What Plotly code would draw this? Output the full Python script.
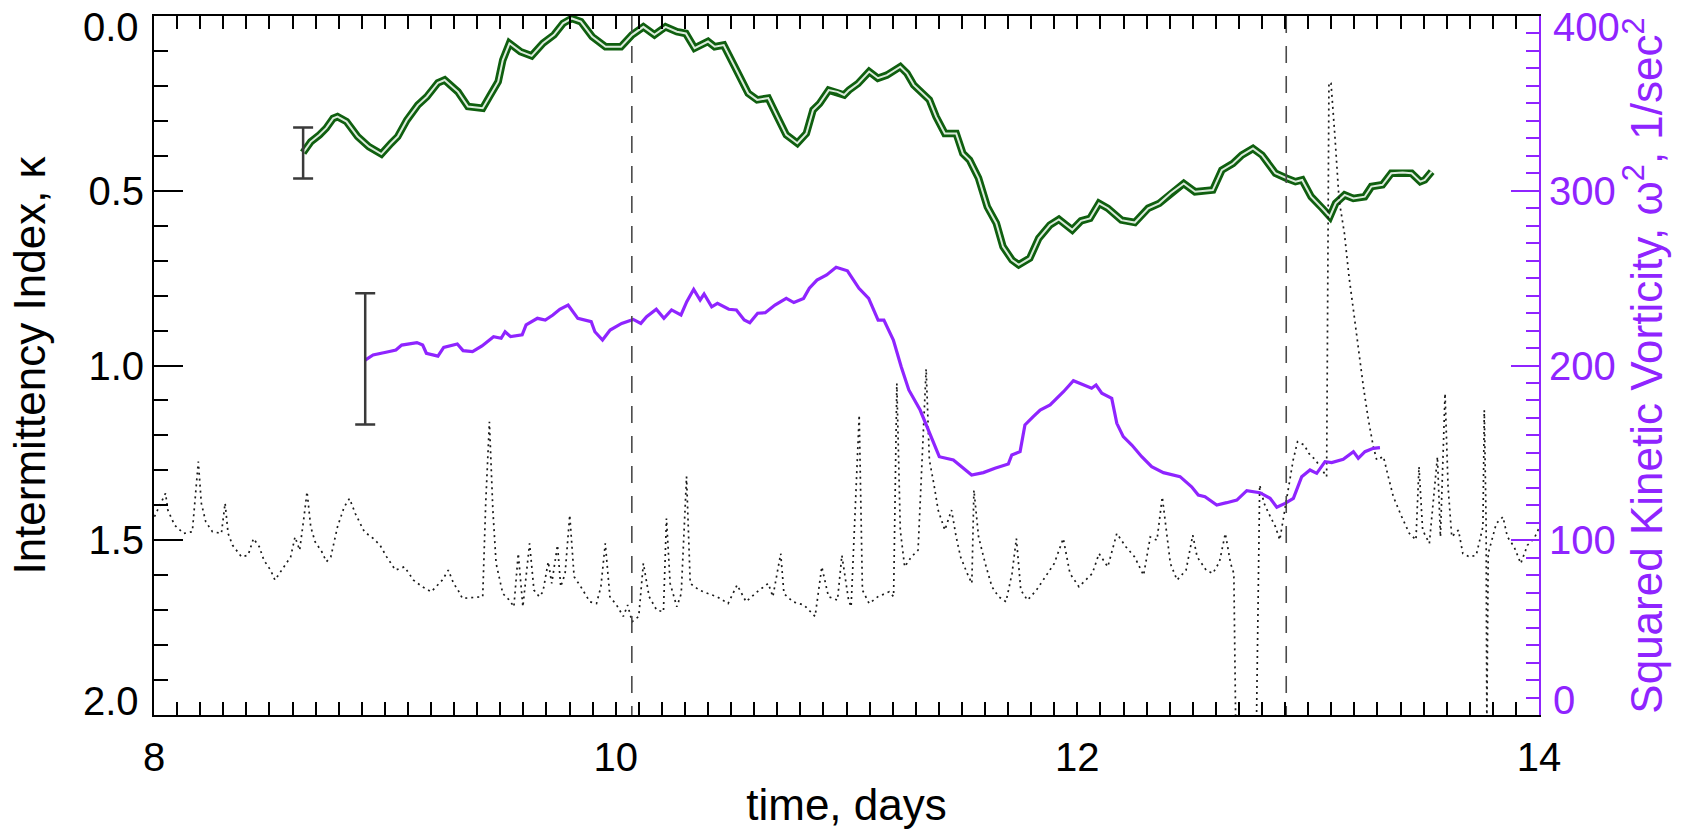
import plotly.graph_objects as go

FONT = "Liberation Sans, Arial, Helvetica, sans-serif"
PURPLE = "#8f24ff"
GREEN_DARK = "#0f5f0f"
GREEN_LIGHT = "#dcecdc"
GRAY = "#3a3a3a"

# ---- Intermittency index kappa (left axis, reversed) ----
kappa_days = [8.646, 8.679, 8.717, 8.746, 8.776, 8.795, 8.834, 8.882, 8.931, 8.985,
              9.027, 9.056, 9.095, 9.143, 9.182, 9.230, 9.259, 9.317, 9.360, 9.424,
              9.453, 9.491, 9.511, 9.540, 9.588, 9.636, 9.685, 9.733, 9.772, 9.810,
              9.849, 9.898, 9.956, 10.023, 10.071, 10.120, 10.168, 10.216, 10.265, 10.304,
              10.342, 10.400, 10.429, 10.468, 10.516, 10.574, 10.613, 10.661, 10.700, 10.739,
              10.787, 10.826, 10.855, 10.884, 10.923, 10.961, 10.990, 11.011, 11.050, 11.098,
              11.136, 11.175, 11.233, 11.262, 11.291, 11.359, 11.388, 11.426, 11.475, 11.504,
              11.533, 11.572, 11.610, 11.649, 11.678, 11.717, 11.746, 11.794, 11.833, 11.881,
              11.920, 11.978, 12.016, 12.055, 12.094, 12.132, 12.191, 12.249, 12.307, 12.355,
              12.404, 12.461, 12.510, 12.587, 12.626, 12.674, 12.713, 12.761, 12.800, 12.858,
              12.906, 12.945, 12.974, 13.013, 13.061, 13.094, 13.119, 13.158, 13.196, 13.245,
              13.274, 13.322, 13.360, 13.409, 13.448, 13.486, 13.505, 13.535]
kappa = [0.391, 0.360, 0.340, 0.321, 0.293, 0.288, 0.302, 0.345, 0.374, 0.395,
         0.364, 0.345, 0.298, 0.255, 0.231, 0.191, 0.183, 0.217, 0.259, 0.264,
         0.231, 0.188, 0.126, 0.078, 0.102, 0.114, 0.078, 0.054, 0.021, 0.007,
         0.016, 0.059, 0.088, 0.088, 0.054, 0.031, 0.054, 0.031, 0.045, 0.050,
         0.092, 0.073, 0.088, 0.083, 0.145, 0.221, 0.240, 0.235, 0.288, 0.340,
         0.364, 0.336, 0.269, 0.250, 0.212, 0.217, 0.226, 0.212, 0.193, 0.159,
         0.178, 0.169, 0.145, 0.164, 0.197, 0.240, 0.288, 0.336, 0.336, 0.393,
         0.412, 0.464, 0.546, 0.593, 0.660, 0.698, 0.712, 0.693, 0.636, 0.598,
         0.582, 0.612, 0.586, 0.579, 0.536, 0.550, 0.584, 0.591, 0.550, 0.536,
         0.507, 0.479, 0.503, 0.498, 0.441, 0.422, 0.398, 0.379, 0.398, 0.450,
         0.464, 0.474, 0.469, 0.517, 0.550, 0.574, 0.536, 0.512, 0.522, 0.517,
         0.488, 0.483, 0.450, 0.448, 0.450, 0.474, 0.469, 0.445]

# ---- Squared kinetic vorticity (right axis) ----
vort_days = [8.915, 8.949, 9.015, 9.048, 9.073, 9.139, 9.164, 9.180, 9.230, 9.255,
             9.314, 9.339, 9.380, 9.421, 9.471, 9.504, 9.521, 9.545, 9.595, 9.612,
             9.661, 9.695, 9.728, 9.758, 9.794, 9.836, 9.894, 9.910, 9.943, 9.976,
             10.026, 10.076, 10.109, 10.134, 10.176, 10.209, 10.242, 10.283, 10.308, 10.338,
             10.366, 10.383, 10.416, 10.441, 10.490, 10.523, 10.557, 10.581, 10.615, 10.648,
             10.690, 10.739, 10.772, 10.814, 10.839, 10.872, 10.914, 10.955, 11.004, 11.054,
             11.096, 11.137, 11.162, 11.203, 11.237, 11.270, 11.319, 11.353, 11.402, 11.463,
             11.506, 11.542, 11.593, 11.643, 11.701, 11.716, 11.752, 11.773, 11.809, 11.839,
             11.882, 11.940, 11.983, 12.026, 12.062, 12.081, 12.106, 12.149, 12.171, 12.199,
             12.236, 12.279, 12.322, 12.373, 12.445, 12.495, 12.524, 12.553, 12.604, 12.647,
             12.691, 12.734, 12.791, 12.835, 12.864, 12.900, 12.936, 12.972, 13.008, 13.037,
             13.073, 13.102, 13.152, 13.196, 13.217, 13.246, 13.282, 13.311]
vort = [203.1, 206.0, 207.9, 208.9, 211.7, 213.1, 211.7, 207.0, 205.4, 210.4,
        212.3, 208.5, 207.9, 211.2, 216.5, 215.6, 219.3, 216.5, 217.5, 223.2,
        227.0, 226.0, 228.9, 232.2, 234.6, 227.0, 225.1, 219.3, 214.6, 220.3,
        224.1, 226.4, 224.1, 227.9, 232.2, 227.0, 231.8, 228.9, 236.5, 243.6,
        237.5, 240.9, 233.6, 235.6, 232.2, 231.8, 226.0, 224.5, 229.9, 230.2,
        234.6, 238.4, 236.0, 238.4, 244.2, 248.9, 251.8, 256.2, 254.2, 244.2,
        238.4, 226.0, 226.0, 214.6, 199.3, 186.0, 174.5, 163.1, 147.8, 145.9,
        141.2, 137.3, 138.7, 141.2, 143.6, 148.8, 150.7, 166.0, 170.7, 174.5,
        177.4, 185.0, 191.3, 188.8, 187.0, 188.8, 184.1, 181.2, 166.9, 159.3,
        154.5, 147.8, 142.1, 138.7, 136.4, 130.6, 125.9, 124.9, 120.2, 121.5,
        123.0, 128.4, 127.2, 124.0, 118.9, 121.1, 124.0, 136.4, 140.2, 138.3,
        145.0, 144.4, 146.3, 150.7, 146.9, 150.7, 152.6, 153.0]

# ---- Dotted series (right axis) ----
dot_days = [8.002, 8.050, 8.060, 8.089, 8.128, 8.166, 8.192, 8.205, 8.224, 8.253,
            8.292, 8.308, 8.321, 8.340, 8.379, 8.408, 8.431, 8.456, 8.476, 8.505,
            8.524, 8.553, 8.592, 8.611, 8.631, 8.650, 8.663, 8.679, 8.698, 8.727,
            8.747, 8.766, 8.795, 8.824, 8.847, 8.872, 8.911, 8.950, 8.979, 9.008,
            9.046, 9.085, 9.124, 9.162, 9.201, 9.249, 9.275, 9.298, 9.317, 9.336,
            9.375, 9.424, 9.437, 9.453, 9.468, 9.482, 9.511, 9.540, 9.559, 9.578,
            9.598, 9.627, 9.646, 9.669, 9.685, 9.708, 9.723, 9.748, 9.762, 9.781,
            9.801, 9.820, 9.849, 9.888, 9.917, 9.936, 9.955, 9.975, 10.004, 10.033,
            10.052, 10.071, 10.100, 10.120, 10.145, 10.178, 10.207, 10.220, 10.236, 10.265,
            10.284, 10.307, 10.323, 10.362, 10.400, 10.439, 10.487, 10.526, 10.565, 10.613,
            10.661, 10.681, 10.715, 10.729, 10.768, 10.816, 10.864, 10.893, 10.922, 10.961,
            10.980, 11.009, 11.020, 11.055, 11.069, 11.098, 11.136, 11.185, 11.204, 11.218,
            11.233, 11.252, 11.281, 11.310, 11.345, 11.359, 11.378, 11.397, 11.426, 11.455,
            11.475, 11.494, 11.523, 11.543, 11.552, 11.572, 11.601, 11.630, 11.659, 11.691,
            11.717, 11.736, 11.755, 11.784, 11.823, 11.862, 11.900, 11.939, 11.968, 12.007,
            12.036, 12.065, 12.094, 12.132, 12.171, 12.210, 12.248, 12.287, 12.316, 12.345,
            12.368, 12.403, 12.432, 12.471, 12.500, 12.519, 12.558, 12.587, 12.616, 12.641,
            12.664, 12.678, 12.686, 12.776, 12.790, 12.809, 12.829, 12.858, 12.877, 12.896,
            12.916, 12.935, 12.954, 12.983, 13.003, 13.032, 13.061, 13.080, 13.090, 13.099,
            13.115, 13.123, 13.134, 13.157, 13.177, 13.196, 13.217, 13.239, 13.261, 13.282,
            13.297, 13.326, 13.347, 13.369, 13.405, 13.438, 13.467, 13.480, 13.496, 13.525,
            13.560, 13.573, 13.593, 13.606, 13.622, 13.651, 13.670, 13.699, 13.728, 13.757,
            13.763, 13.771, 13.774, 13.780, 13.815, 13.844, 13.863, 13.892, 13.921, 13.950,
            13.979, 13.999]
dot_vort = [113.5, 126.9, 117.3, 108.7, 103.9, 104.9, 145.0, 121.2, 110.6, 104.9,
            103.9, 121.2, 103.9, 97.2, 90.5, 91.5, 101.0, 96.3, 88.6, 82.9,
            77.2, 82.9, 90.5, 101.9, 94.3, 113.5, 127.8, 107.7, 99.1, 93.4,
            87.7, 90.5, 107.7, 119.1, 123.9, 115.3, 104.9, 101.0, 97.2, 90.5,
            82.9, 84.8, 77.2, 73.4, 70.5, 77.2, 82.9, 75.3, 71.5, 66.7,
            67.3, 67.7, 121.2, 167.8, 117.3, 86.8, 69.5, 65.7, 61.9, 92.4,
            61.9, 98.2, 71.5, 67.7, 70.5, 87.7, 75.3, 97.2, 73.4, 81.0,
            114.4, 79.1, 73.4, 64.8, 63.8, 73.4, 98.2, 67.7, 62.9, 56.4,
            62.9, 53.4, 56.4, 86.8, 67.7, 60.0, 59.1, 112.5, 75.3, 61.9,
            69.5, 136.4, 75.3, 71.5, 69.5, 67.7, 63.8, 74.4, 64.8, 70.5,
            75.3, 67.7, 92.4, 69.5, 64.8, 62.9, 56.4, 84.8, 67.7, 65.7,
            91.4, 65.7, 61.9, 171.7, 71.5, 63.8, 67.7, 70.5, 67.7, 189.8,
            105.8, 84.8, 90.5, 94.3, 198.0, 145.9, 132.6, 117.3, 105.8, 117.3,
            102.0, 90.5, 81.0, 75.3, 128.7, 102.0, 86.7, 73.4, 67.7, 64.8,
            81.0, 101.0, 71.5, 65.7, 71.5, 79.1, 86.7, 101.0, 81.0, 73.4,
            77.2, 81.0, 92.4, 84.8, 103.9, 96.3, 90.5, 80.0, 101.9, 100.0,
            124.8, 86.7, 77.2, 82.9, 102.9, 90.5, 82.9, 81.0, 87.7, 103.9,
            86.7, 81.0, -5.0, -5.0, 131.6, 121.2, 115.4, 107.8, 100.2, 115.4,
            132.6, 145.9, 156.4, 154.5, 149.7, 145.9, 140.2, 136.4, 362.0, 361.5,
            332.8, 313.8, 294.7, 275.6, 250.8, 231.8, 209.0, 188.0, 168.9, 153.7,
            146.0, 147.9, 136.4, 124.9, 113.5, 104.0, 100.2, 142.1, 105.8, 98.2,
            147.8, 102.0, 184.1, 130.7, 102.0, 105.8, 92.4, 90.5, 91.4, 107.7,
            174.5, 107.7, -5.0, 92.4, 109.6, 113.4, 102.0, 96.3, 86.7, 97.2,
            101.0, 106.7]

# ---- Error bars and event markers ----
kappa_err_day = [8.646]
kappa_err_mid = [0.392]
kappa_err_half = [0.073]
vort_err_day = [8.915]
vort_err_mid = [203.8]
vort_err_half = [37.5]
event_days = [10.07, 12.905]

# ---- Axis ticks / labels ----
x_label_vals = [8, 10, 12, 14]
x_label_text = ["8", "10", "12", "14"]
x_unlabeled_vals = [9, 11, 13]
k_inner_vals = [0.5, 1.0, 1.5]
k_inner_text = ["0.5", "1.0", "1.5"]
k_edge_vals = [0.0, 2.0]
k_edge_text = ["0.0", "2.0"]
v_inner_vals = [100, 200, 300]
v_inner_text = ["100", "200", "300"]
v_edge_vals = [400, 0]
v_edge_text = ["400", "0"]

fig = go.Figure()

for d in event_days:
    fig.add_trace(go.Scatter(x=[d, d], y=[0.0, 2.0], mode="lines",
                             line=dict(color="#4a4a4a", width=1.6, dash="17px,13px"),
                             hoverinfo="skip", xaxis="x2", yaxis="y"))

fig.add_trace(go.Scatter(x=kappa_days, y=kappa, mode="lines",
                         line=dict(color=GREEN_DARK, width=7.5), yaxis="y"))
fig.add_trace(go.Scatter(x=kappa_days, y=kappa, mode="lines",
                         line=dict(color=GREEN_LIGHT, width=2), yaxis="y"))
fig.add_trace(go.Scatter(x=kappa_err_day, y=kappa_err_mid, mode="markers",
                         marker=dict(size=1, color=GRAY, opacity=0),
                         error_y=dict(type="data", array=kappa_err_half, color=GRAY,
                                      thickness=2.5, width=10),
                         yaxis="y"))

fig.add_trace(go.Scatter(x=dot_days, y=dot_vort, mode="lines",
                         line=dict(color="#1a1a1a", width=1.7, dash="2px,4px"),
                         yaxis="y2"))
fig.add_trace(go.Scatter(x=vort_days, y=vort, mode="lines",
                         line=dict(color=PURPLE, width=3.2), yaxis="y2"))
fig.add_trace(go.Scatter(x=vort_err_day, y=vort_err_mid, mode="markers",
                         marker=dict(size=1, color=GRAY, opacity=0),
                         error_y=dict(type="data", array=vort_err_half, color=GRAY,
                                      thickness=2.5, width=10),
                         yaxis="y2"))

# edge tick labels kept inside the frame, as in the original
annotations = []
for v, t, shift in zip(k_edge_vals, k_edge_text, [-11, 14]):
    annotations.append(dict(x=0, xref="paper", xanchor="right", xshift=-13,
                            y=v, yref="y", yanchor="middle", yshift=shift,
                            text=t, showarrow=False,
                            font=dict(family=FONT, size=40, color="black")))
for v, t, shift in zip(v_edge_vals, v_edge_text, [-11, 15]):
    annotations.append(dict(x=1, xref="paper", xanchor="left", xshift=12,
                            y=v, yref="y2", yanchor="middle", yshift=shift,
                            text=t, showarrow=False,
                            font=dict(family=FONT, size=40, color=PURPLE)))

fig.update_layout(
    template="none",
    width=1685, height=829,
    margin=dict(l=154, r=146, t=16, b=114, autoexpand=False),
    paper_bgcolor="white", plot_bgcolor="white",
    showlegend=False,
    font=dict(family=FONT, color="black", size=40),
    annotations=annotations,
    xaxis=dict(
        automargin=False,
        range=[8, 14], tickmode="array", tickvals=x_label_vals, ticktext=x_label_text,
        ticks="inside", ticklen=13, tickwidth=1.5, tickcolor="black",
        minor=dict(tickmode="linear", tick0=8, dtick=0.1, ticks="inside",
                   ticklen=7, tickwidth=1.5, tickcolor="black"),
        showline=True, linecolor="black", linewidth=2, mirror="allticks",
        showgrid=False, zeroline=False, ticklabelstandoff=6,
        tickfont=dict(size=40, color="black"),
        title=dict(text="time, days", font=dict(size=44, color="black"), standoff=12),
    ),
    xaxis2=dict(
        automargin=False,
        overlaying="x", anchor="y", range=[8, 14],
        tickmode="array", tickvals=x_unlabeled_vals, showticklabels=False,
        ticks="inside", ticklen=13, tickwidth=1.5, tickcolor="black",
        showline=True, linecolor="black", linewidth=2, mirror="allticks",
        showgrid=False, zeroline=False,
    ),
    yaxis=dict(
        automargin=False,
        range=[2.0, 0.0], tickmode="array", tickvals=k_inner_vals, ticktext=k_inner_text,
        ticks="inside", ticklen=29, tickwidth=1.5, tickcolor="black",
        minor=dict(tickmode="linear", tick0=0, dtick=0.1, ticks="inside",
                   ticklen=14, tickwidth=1.5, tickcolor="black"),
        showline=True, linecolor="black", linewidth=2,
        showgrid=False, zeroline=False,
        tickfont=dict(size=40, color="black"),
        title=dict(text="Intermittency Index, κ", font=dict(size=44, color="black"), standoff=29),
    ),
    yaxis2=dict(
        automargin=False,
        overlaying="y", side="right", anchor="x",
        range=[0, 400], tickmode="array", tickvals=v_inner_vals, ticktext=v_inner_text,
        ticks="inside", ticklen=28, tickwidth=1.5, tickcolor=PURPLE,
        minor=dict(tickmode="linear", tick0=0, dtick=10, ticks="inside",
                   ticklen=13, tickwidth=1.5, tickcolor=PURPLE),
        showline=True, linecolor=PURPLE, linewidth=2,
        showgrid=False, zeroline=False,
        tickfont=dict(size=40, color=PURPLE),
        title=dict(text="Squared Kinetic Vorticity, ω<sup>2</sup>, 1/sec<sup>2</sup>",
                   font=dict(size=44, color=PURPLE), standoff=8),
    ),
)

fig.write_html("out.html")
